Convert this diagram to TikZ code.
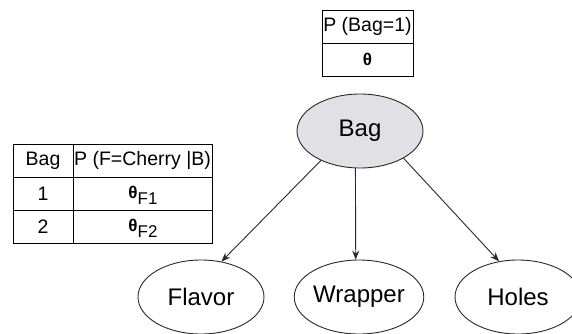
\documentclass[tikz,border=0pt]{standalone}
\usepackage{fontspec}
\setmainfont{Liberation Sans}
\usetikzlibrary{shapes.geometric,arrows.meta}

\definecolor{bagfill}{RGB}{225,225,229}
\definecolor{edgegray}{RGB}{40,40,40}

\tikzset{
  var/.style={ellipse, draw=edgegray, line width=0.9pt, minimum width=126pt,
    minimum height=74pt, inner sep=0pt, font=\fontsize{24}{24}\selectfont},
  cell/.style={inner sep=0pt, font=\fontsize{19.5}{20}\selectfont},
  grid/.style={draw=black, line width=0.9pt},
  link/.style={draw=edgegray, line width=0.9pt, -{Stealth[length=9pt,width=7pt]}},
}
\newcommand{\thetaglyph}{{\fontsize{17}{17}\selectfont\bfseries θ}}
\newcommand{\thetasub}[1]{\thetaglyph\raisebox{-6.5pt}{\fontsize{17}{17}\selectfont #1}}

\begin{document}
\begin{tikzpicture}[x=1pt, y=-1pt]
  \clip (0,0) rectangle (572,333);

  % prior table for Bag
  \draw[grid] (322,10) rectangle (413,76);
  \draw[grid] (322,43) -- (413,43);
  \node[cell] (pbag) at (367.5,26.5) {P (Bag=1)};
  \node[cell] (theta) at (367.5,59.5) {\thetaglyph};

  % conditional table for Flavor
  \draw[grid] (13,144) rectangle (212,243);
  \draw[grid] (73,144) -- (73,243);
  \draw[grid] (13,177) -- (212,177);
  \draw[grid] (13,210) -- (212,210);
  \node[cell] (hbag) at (43,160.5) {Bag};
  \node[cell] (hprob) at (142.5,160.5) {P (F=Cherry |B)};
  \node[cell] (r1) at (43,193.5) {1};
  \node[cell] (r2) at (43,226.5) {2};
  \node[cell, anchor=base] (t1) at (143,198) {\thetasub{F1}};
  \node[cell, anchor=base] (t2) at (143,231) {\thetasub{F2}};

  % network
  \node[var, fill=bagfill] (bag) at (360,131) {Bag};
  \node[var] (flavor) at (201,297) {Flavor};
  \node[var] (wrapper) at (359,297) {Wrapper};
  \node[var] (holes) at (518,297) {Holes};

  \draw[link] (bag.217) -- (flavor.60);
  \draw[link] (bag.263) -- (wrapper.95);
  \draw[link] (bag.328) -- (holes.118);
\end{tikzpicture}
\end{document}
